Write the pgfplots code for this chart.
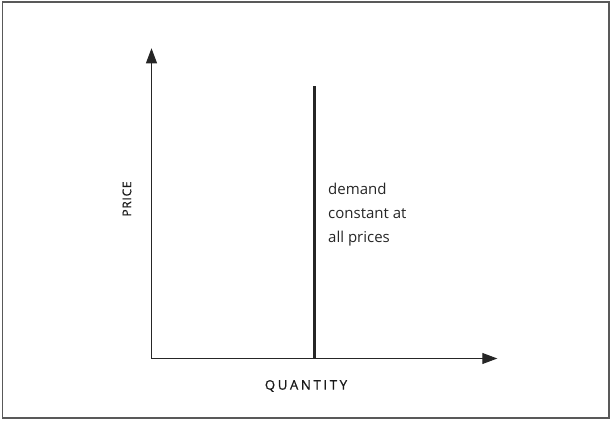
\documentclass[border=0pt]{standalone}
\usepackage{fontspec}
\setmainfont{Open Sans}
\usepackage{pgfplots}
\pgfplotsset{compat=1.18}
\usetikzlibrary{arrows.meta}
\begin{document}
\begin{tikzpicture}[x=1pt,y=1pt]
\path[use as bounding box] (0,0) rectangle (611,421);
\draw[line width=1.3pt, color=black!65] (2.5,3) rectangle (609,419);
\begin{axis}[
  at={(151.5,62.5)}, anchor=south west,
  scale only axis, width=345.8pt, height=310.2pt,
  xmin=0, xmax=345.8, ymin=0, ymax=310.2,
  axis lines=left,
  axis line style={line width=1pt, black!85, -{Triangle[length=15pt,width=11pt]}},
  xtick=\empty, ytick=\empty,
  clip=false,
  xlabel={\addfontfeature{LetterSpace=20,FakeBold=0.8}QUANTITY},
  ylabel={\addfontfeature{LetterSpace=6,FakeBold=0.8}PRICE},
  x label style={at={(axis cs:154.5,-27.5)}, anchor=center, font=\fontsize{13.2}{15}\selectfont, text=black!90, inner sep=0pt},
  y label style={at={(axis cs:-24.6,159.5)}, anchor=center, font=\fontsize{12}{14}\selectfont, text=black!90, inner sep=0pt},
]
\addplot[line width=2.7pt, black!85] coordinates {(163.2,0) (163.2,272.8)};
\node[anchor=north west, align=left, inner sep=0pt, font=\fontsize{15}{24}\selectfont, text=black!85] at (axis cs:176.5,175.5) {demand\\constant at\\all prices};
\end{axis}
\end{tikzpicture}
\end{document}
